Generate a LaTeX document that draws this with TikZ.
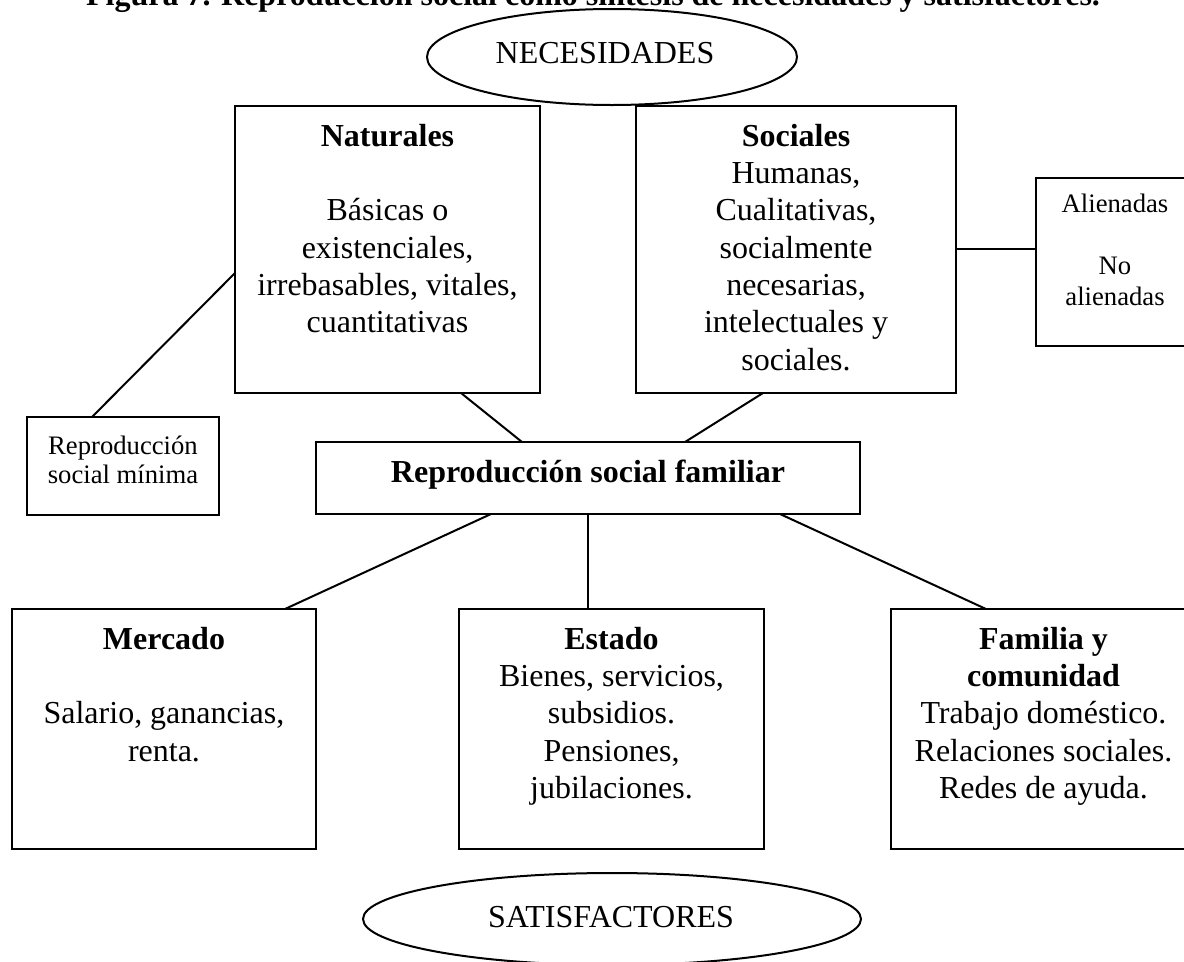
\documentclass[tikz,border=0pt]{standalone}
\usepackage{fontspec}
\setmainfont{Liberation Serif}
\usetikzlibrary{shapes.geometric,calc}
\tikzset{
  box/.style={draw, rectangle, line width=0.75pt, inner sep=0pt, outer sep=0pt},
  oval/.style={draw, ellipse, line width=0.75pt, inner sep=0pt, outer sep=0pt},
  txt/.style={inner sep=0pt, outer sep=0pt, align=center, font=\fontsize{12}{14}\selectfont},
  smalltxt/.style={inner sep=0pt, outer sep=0pt, align=center, font=\fontsize{10}{11.6}\selectfont},
  link/.style={line width=0.75pt}
}
\begin{document}
\begin{tikzpicture}[x=0.375pt,y=-0.375pt]
\useasboundingbox (0,0) rectangle (1184,961);
\fill[white] (0,0) rectangle (1184,961);
\clip (0,0) rectangle (1184,961);

% title (cut by the page top)
\node[txt, anchor=base] (title) at (593,5) {\textbf{Figura 7. Reproducción social como síntesis de necesidades y satisfactores.}};

% ellipses
\node[oval, minimum width=370*0.375pt, minimum height=96*0.375pt] (nec) at (612,57) {};
\node[txt, anchor=base] (nectxt) at (605,63) {NECESIDADES};
\node[oval, minimum width=498*0.375pt, minimum height=92*0.375pt] (sat) at (612,919) {};
\node[txt, anchor=base] (sattxt) at (611,927) {SATISFACTORES};

% boxes
\node[box, minimum width=305*0.375pt, minimum height=287*0.375pt] (nat) at (387.5,249.5) {};
\node[box, minimum width=320*0.375pt, minimum height=287*0.375pt] (soc) at (796,249.5) {};
\node[box, minimum width=158*0.375pt, minimum height=168*0.375pt] (ali) at (1115,262) {};
\node[box, minimum width=192*0.375pt, minimum height=98*0.375pt] (min) at (123,466) {};
\node[box, minimum width=544*0.375pt, minimum height=72*0.375pt] (fam) at (588,478) {};
\node[box, minimum width=304.5*0.375pt, minimum height=240*0.375pt] (mer) at (163.75,729) {};
\node[box, minimum width=305*0.375pt, minimum height=240*0.375pt] (est) at (611.5,729) {};
\node[box, minimum width=305*0.375pt, minimum height=240*0.375pt] (fyc) at (1043.5,729) {};

% texts
\node[txt, anchor=north] (nattxt) at (387.5,120) {\strut\textbf{Naturales}\\[14pt]Básicas o\\existenciales,\\irrebasables, vitales,\\cuantitativas};
\node[txt, anchor=north] (soctxt) at (796,120) {\strut\textbf{Sociales}\\Humanas,\\Cualitativas,\\socialmente\\necesarias,\\intelectuales y\\sociales.};
\node[smalltxt, anchor=north] (alitxt) at (1115,191) {\strut Alienadas\\[11.6pt]No\\alienadas};
\node[smalltxt, font=\fontsize{10}{10.6}\selectfont, anchor=north] (mintxt) at (123,435) {\strut Reproducción\\social mínima};
\node[txt, anchor=base] (famtxt) at (588,482) {\textbf{Reproducción social familiar}};
\node[txt, anchor=north] (mertxt) at (164,623) {\strut\textbf{Mercado}\\[14pt]Salario, ganancias,\\renta.};
\node[txt, anchor=north] (esttxt) at (611.5,623) {\strut\textbf{Estado}\\Bienes, servicios,\\subsidios.\\Pensiones,\\jubilaciones.};
\node[txt, anchor=north] (fyctxt) at (1043.5,623) {\strut\textbf{Familia y}\\\textbf{comunidad}\\Trabajo doméstico.\\Relaciones sociales.\\Redes de ayuda.};

% connectors
\draw[link] ($(nat.south west)+(0,-120)$) -- ($(min.north west)+(65,0)$);
\draw[link] ($(nat.south west)+(226,0)$) -- ($(fam.north west)+(206,0)$);
\draw[link] ($(soc.south west)+(127,0)$) -- ($(fam.north west)+(369,0)$);
\draw[link] ($(soc.north east)+(0,143)$) -- ($(ali.north west)+(0,71)$);
\draw[link] ($(fam.south west)+(175,0)$) -- ($(mer.north west)+(273.5,0)$);
\draw[link] (fam.south) -- (fam.south |- est.north);
\draw[link] ($(fam.south west)+(464,0)$) -- ($(fyc.north west)+(95,0)$);
\end{tikzpicture}
\end{document}
